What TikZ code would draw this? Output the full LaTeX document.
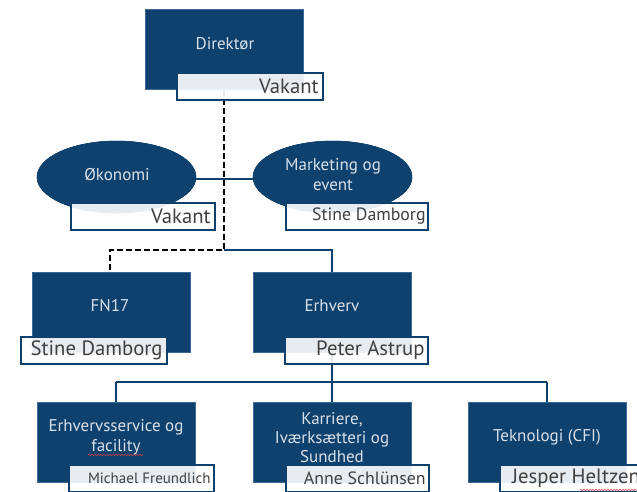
\documentclass[tikz,border=0pt]{standalone}
\usepackage{fontspec}
\setmainfont{PT Sans}
\usetikzlibrary{shapes.geometric,decorations.pathmorphing}
\definecolor{navy}{HTML}{0E416E}
\definecolor{navyedge}{HTML}{3A6A95}
\definecolor{boxtxt}{HTML}{D8E0E9}
\definecolor{lbltxt}{HTML}{404040}
\definecolor{spell}{HTML}{D04040}
\begin{document}
\begin{tikzpicture}[x=1pt,y=-1pt,
  unitbox/.style={draw=navyedge, line width=0.7pt, fill=navy, minimum width=158pt, minimum height=80pt, inner sep=0pt, anchor=north west},
  ovalbox/.style={ellipse, draw=navy, fill=navy, minimum width=159pt, minimum height=72pt, inner sep=0pt},
  namebox/.style={draw=navy, line width=1.8pt, fill=white, fill opacity=0.9, minimum height=27pt, inner sep=0pt, anchor=north west},
  unittext/.style={text=boxtxt, align=center, font=\fontsize{17}{20}\selectfont, inner sep=0pt},
  nametext/.style={text=lbltxt, anchor=east, inner sep=0pt, font=\fontsize{20.7}{23}\selectfont},
  namemid/.style={nametext, font=\fontsize{17.8}{21}\selectfont},
  namesmall/.style={nametext, font=\fontsize{15}{17}\selectfont},
  link/.style={draw=navy, line width=2.4pt},
  dashlink/.style={draw=black, line width=2.6pt, dash pattern=on 6pt off 3pt},
  wavy/.style={draw=spell, line width=0.6pt, decorate, decoration={snake, amplitude=0.6pt, segment length=3pt}}
]
\useasboundingbox (0,0) rectangle (637,491);
\fill[white] (0,0) rectangle (637,491);
\clip (0,0) rectangle (637,491);

% unit boxes (placed first so connectors can refer to them; drawn on top later)
\node[unitbox] (dir) at (145,9) {};
\node[unitbox] (fn) at (32,272) {};
\node[unitbox] (erh) at (253,272) {};
\node[unitbox] (ser) at (37,402) {};
\node[unitbox] (kar) at (253,402) {};
\node[unitbox] (tek) at (468,402) {};
\node[ovalbox] (oko) at (116.5,177) {};
\node[ovalbox] (mkt) at (332.5,177) {};

% junction coordinates
\coordinate (j1) at (224,250);
\coordinate (jl) at (110,250);
\coordinate (jr) at (332,250);
\coordinate (j2) at (332,382);
\coordinate (jbl) at (116,382);
\coordinate (jbr) at (547,382);

% connectors
\draw[link] (oko.east |- 0,179) -- (mkt.west |- 0,179);
\draw[link] (j1) -- (jr) -- (erh.north -| jr);
\draw[link] (erh.south -| j2) -- (j2);
\draw[link] (jbl) -- (jbr);
\draw[link] (jbl) -- (ser.north -| jbl);
\draw[link] (j2) -- (kar.north -| j2);
\draw[link] (jbr) -- (tek.north -| jbr);
\draw[dashlink] (dir.south -| j1) -- (j1) -- (jl) -- (fn.north -| jl);

% redraw boxes on top of connectors
\node[unitbox] at (145,9) {};
\node[unitbox] at (32,272) {};
\node[unitbox] at (253,272) {};
\node[unitbox] at (37,402) {};
\node[unitbox] at (253,402) {};
\node[unitbox] at (468,402) {};
\node[ovalbox] at (116.5,177) {};
\node[ovalbox] at (332.5,177) {};

% unit texts
\node[unittext] (tdir) at (225,44) {Direktør};
\node[unittext] (toko) at (117,175) {Økonomi};
\node[unittext] (tmkt) at (333,175) {Marketing og\\event};
\node[unittext] (tfn) at (110,306) {FN17};
\node[unittext] (terh) at (332,306) {Erhverv};
\node[unittext] (tser) at (116,437) {Erhvervsservice og\\facility};
\node[unittext, font=\fontsize{17}{19}\selectfont] (tkar) at (332,438) {Karriere,\\Iværksætteri og\\Sundhed};
\node[unittext] (ttek) at (547,437) {Teknologi (CFI)};

% name boxes
\node[namebox, minimum width=146pt] (ndir) at (176,72) {};
\node[namebox, minimum width=144pt] (noko) at (70,202) {};
\node[namebox, minimum width=142pt] (nmkt) at (285,202) {};
\node[namebox, minimum width=146pt] (nfn) at (20,336) {};
\node[namebox, minimum width=143pt] (nerh) at (284,336) {};
\node[namebox, minimum width=145pt] (nser) at (68,464) {};
\node[namebox, minimum width=143pt] (nkar) at (285,464) {};
\node[namebox, minimum width=145pt] (ntek) at (499,464) {};

% names
\node[nametext] at ([xshift=-5pt]ndir.east) {Vakant};
\node[nametext] at ([xshift=-5pt]noko.east) {Vakant};
\node[namemid] at ([xshift=-3pt]nmkt.east) {Stine Damborg};
\node[nametext] at ([xshift=-5pt]nfn.east) {Stine Damborg};
\node[nametext] at ([xshift=-4pt]nerh.east) {Peter Astrup};
\node[namesmall] at ([xshift=-4pt]nser.east) {Michael Freundlich};
\node[namemid] at ([xshift=-4pt]nkar.east) {Anne Schlünsen};
\node[nametext, anchor=west] at ([xshift=13pt]ntek.west) {Jesper Heltzen};

% spell-check underlines
\draw[wavy] (88,455) -- (143,455);
\draw[wavy] (580,490) -- (637,490);
\end{tikzpicture}
\end{document}
